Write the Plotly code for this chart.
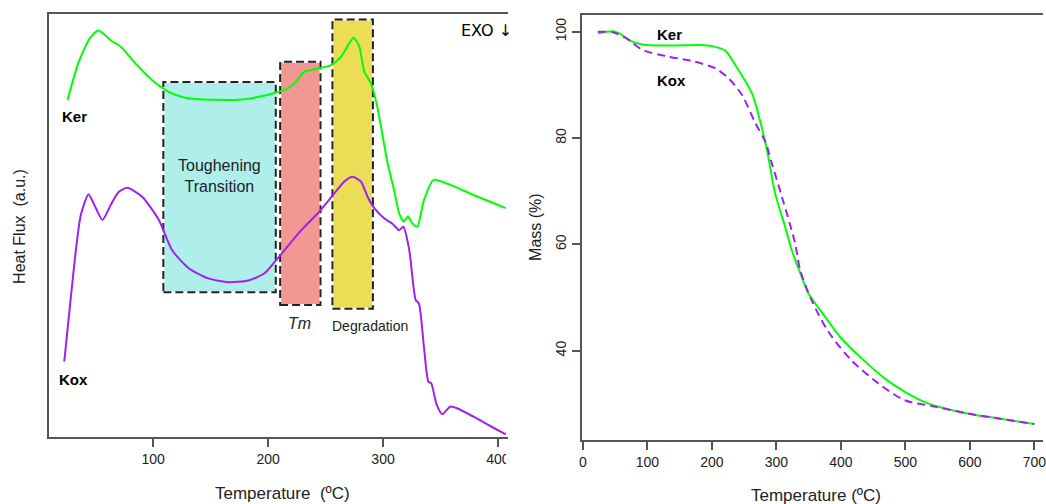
import plotly.graph_objects as go

# ---------------- DSC data (left panel, arbitrary units) ----------------
dsc_ker_T = [25.6, 35, 45, 52.4, 64.5, 71.7, 84.7, 99, 113.6, 128, 154, 177, 200, 217, 223,
             231.7, 240, 254.8, 263.5, 270.7, 274.5, 279.4, 283.7, 289.5, 295, 304, 309.6,
             314, 318, 321.7, 325.5, 329.8, 335.6, 344, 358.6, 378.8, 406.8]
dsc_ker_hf = [79.7, 88.5, 94.3, 96.1, 93.5, 92.3, 88.3, 84.4, 81.6, 80.2, 79.7, 79.8, 80.9, 82.4, 83.6,
              86.4, 86.9, 87.9, 89.9, 93.1, 94.4, 92.3, 86.4, 83.6, 78.1, 64.7, 58.4,
              52.9, 50.9, 52.2, 50.5, 49.7, 56.0, 60.8, 59.6, 57.2, 54.1]

dsc_kox_T = [22.7, 28.2, 32.8, 37.1, 43.8, 49, 55.9, 63, 70, 77.5, 90.5, 105, 116.4, 130.9, 148,
             165.5, 182.8, 197, 205.8, 214.4, 228.9, 243.3, 257.7, 266.4, 273.6, 280.8, 286.6,
             292.4, 301, 308.2, 314, 317.7, 322.6, 324, 328.4, 331.2, 335.6, 339.4, 342, 346.5,
             351.5, 358.6, 364.4, 378.8, 393.3, 406.8]
dsc_kox_hf = [17.8, 32.4, 44.2, 52.5, 57.4, 54.8, 51.3, 54.8, 57.9, 58.9, 56.8, 51.3, 44.2, 39.9, 37.5,
              36.6, 37.0, 38.7, 41.4, 44.2, 48.9, 52.9, 57.6, 60.4, 61.5, 60.4, 56.8,
              54.1, 51.7, 50.4, 48.9, 49.7, 44.6, 41.8, 32.4, 31.6, 21.3, 13.1, 12.7, 7.8,
              5.4, 7.2, 6.8, 4.8, 2.6, 0.6]

# Highlighted regions
region_names = ["Toughening<br>Transition", "<i>Tm</i>", "Degradation"]
region_T0 = [108.9, 210.5, 256.0]
region_T1 = [206.7, 245.6, 291.2]
region_lo = [34.2, 31.2, 30.3]
region_hi = [83.9, 88.7, 98.7]
region_fill = ["#AEEFEC", "#F29892", "#EBDD55"]

# ---------------- TGA data (right panel) ----------------
tga_ker_T = [23.1, 46.3, 56.6, 72, 92.5, 133.7, 180, 200.4, 221, 236.5, 262.1, 272.4, 285.3, 298,
             313.6, 323.8, 339.2, 349.5, 375.3, 400.9, 431.7, 467.8, 498.6, 534.5, 596.2, 647.5, 700]
tga_ker_m = [99.7, 100.1, 99.7, 98.4, 97.6, 97.4, 97.5, 97.3, 96.4, 93.7, 88.4, 84.3, 77.8, 69.6,
             63.3, 58.9, 53.9, 50.8, 46.4, 42.3, 38.6, 34.8, 32.3, 30.1, 28.2, 27.2, 26.2]

tga_kox_T = [23.1, 46.3, 67, 92.5, 133.7, 169.6, 205.6, 226.2, 246.7, 267.4, 282.8, 293, 308.4,
             329, 336.7, 354.6, 380.4, 416.3, 457.4, 498.6, 544.9, 596.2, 647.5, 700]
tga_kox_m = [100, 99.9, 98.8, 96.6, 95.3, 94.5, 93.1, 91.2, 88.1, 82.8, 79.3, 75.2, 69.0,
             60.2, 55.2, 49.5, 43.6, 38.2, 33.9, 30.7, 29.5, 28.2, 27.2, 26.2]

tga_xticks = [0, 100, 200, 300, 400, 500, 600, 700]
tga_yticks = [40, 60, 80, 100]
dsc_xticks = [100, 200, 300, 400]

GREEN = "#00FF00"
PURPLE = "#A020F0"
AXC = "#555555"
TXT = "#222222"
FONT = "Liberation Sans"
W, H = 1046, 504


def px(x):
    return x / W


def py(y):
    return (H - y) / H


fig = go.Figure()

fig.add_trace(go.Scatter(x=dsc_ker_T, y=dsc_ker_hf, mode="lines", xaxis="x", yaxis="y",
                         line=dict(color=GREEN, width=2, shape="spline", smoothing=0.6),
                         showlegend=False, hoverinfo="skip"))
fig.add_trace(go.Scatter(x=dsc_kox_T, y=dsc_kox_hf, mode="lines", xaxis="x", yaxis="y",
                         line=dict(color=PURPLE, width=2, shape="spline", smoothing=0.6),
                         showlegend=False, hoverinfo="skip"))
fig.add_trace(go.Scatter(x=tga_ker_T, y=tga_ker_m, mode="lines", xaxis="x2", yaxis="y2",
                         line=dict(color=GREEN, width=2, shape="spline", smoothing=0.8),
                         showlegend=False, hoverinfo="skip"))
fig.add_trace(go.Scatter(x=tga_kox_T, y=tga_kox_m, mode="lines", xaxis="x2", yaxis="y2",
                         line=dict(color=PURPLE, width=2, shape="spline", smoothing=0.8, dash="8px,5px"),
                         showlegend=False, hoverinfo="skip"))

shapes = []
for t0, t1, lo, hi, fc in zip(region_T0, region_T1, region_lo, region_hi, region_fill):
    shapes.append(dict(type="rect", xref="x", yref="y", x0=t0, x1=t1, y0=lo, y1=hi,
                       fillcolor=fc, line=dict(color="white", width=2), layer="below"))
    shapes.append(dict(type="rect", xref="x", yref="y", x0=t0, x1=t1, y0=lo, y1=hi,
                       fillcolor="rgba(0,0,0,0)", line=dict(color="#222222", width=2, dash="8px,4px"),
                       layer="below"))
# crop of the left panel's last tick label (as in the reference image)
shapes.append(dict(type="rect", xref="paper", yref="paper", x0=px(506), x1=px(545), y0=py(480), y1=py(445),
                   fillcolor="white", line=dict(width=0), layer="above"))


def paper_note(x, y, text, size, angle=0, family=FONT, color=TXT):
    return dict(x=px(x), y=py(y), xref="paper", yref="paper", text=text, textangle=angle,
                showarrow=False, xanchor="center", yanchor="middle",
                font=dict(family=family, size=size, color=color))


annotations = []
# region labels
annotations.append(dict(x=(region_T0[0] + region_T1[0]) / 2, y=61.7, xref="x", yref="y",
                        text=region_names[0], showarrow=False,
                        font=dict(family=FONT, size=16, color=TXT)))
annotations.append(dict(x=(region_T0[1] + region_T1[1]) / 2 - 1, y=26.8, xref="x", yref="y",
                        text=region_names[1], showarrow=False,
                        font=dict(family=FONT, size=16, color=TXT)))
annotations.append(dict(x=288.6, y=26.2, xref="x", yref="y",
                        text=region_names[2], showarrow=False,
                        font=dict(family=FONT, size=14, color=TXT)))
annotations.append(dict(x=31.7, y=75.7, xref="x", yref="y", text="<b>Ker</b>", showarrow=False,
                        font=dict(family=FONT, size=15, color="black")))
annotations.append(dict(x=30.8, y=13.5, xref="x", yref="y", text="<b>Kox</b>", showarrow=False,
                        font=dict(family=FONT, size=15, color="black")))
annotations.append(dict(x=133.7, y=99.4, xref="x2", yref="y2", text="<b>Ker</b>", showarrow=False,
                        font=dict(family=FONT, size=15, color="black")))
annotations.append(dict(x=136.8, y=90.9, xref="x2", yref="y2", text="<b>Kox</b>", showarrow=False,
                        font=dict(family=FONT, size=15, color="black")))
annotations.append(paper_note(486, 30, "EXO \u2193", 16, family="DejaVu Sans", color="black"))
# axis titles
annotations.append(paper_note(17, 226, "Heat Flux  (a.u.)", 16, angle=-90))
annotations.append(paper_note(281, 493, "Temperature  (\u00baC)", 17))
annotations.append(paper_note(536, 227, "Mass (%)", 16, angle=-90))
annotations.append(paper_note(818, 495, "Temperature (\u00baC)", 17))

tickfont = dict(family=FONT, size=14, color=TXT)

fig.update_layout(
    width=W, height=H,
    margin=dict(l=0, r=0, t=0, b=0),
    paper_bgcolor="white", plot_bgcolor="white",
    showlegend=False,
    shapes=shapes, annotations=annotations,
    xaxis=dict(domain=[px(46), px(508)], anchor="y", range=[9.2, 408.8],
               tickvals=dsc_xticks, ticks="outside", ticklen=8, tickcolor=AXC, tickwidth=1.5,
               showline=True, linecolor=AXC, linewidth=1.5, mirror=True, ticklabeloverflow="allow",
               showgrid=False, zeroline=False, tickfont=tickfont),
    yaxis=dict(domain=[py(437), py(14)], anchor="x", range=[0, 100],
               showticklabels=False, ticks="", showline=True, linecolor=AXC, linewidth=1.5,
               showgrid=False, zeroline=False),
    xaxis2=dict(domain=[px(582), 1.0], anchor="y2", range=[-2, 713.4],
                tickvals=tga_xticks, ticks="outside", ticklen=8, tickcolor=AXC, tickwidth=1.5,
                showline=True, linecolor=AXC, linewidth=1.5, mirror=True, ticklabeloverflow="allow",
                showgrid=False, zeroline=False, tickfont=tickfont),
    yaxis2=dict(domain=[py(440), py(15.3)], anchor="x2", range=[23.2, 103.1],
                tickvals=tga_yticks, ticks="outside", ticklen=8, tickcolor=AXC, tickwidth=1.5,
                tickangle=-90, showline=True, linecolor=AXC, linewidth=1.5,
                showgrid=False, zeroline=False, tickfont=tickfont),
)

fig.write_html("out.html")
